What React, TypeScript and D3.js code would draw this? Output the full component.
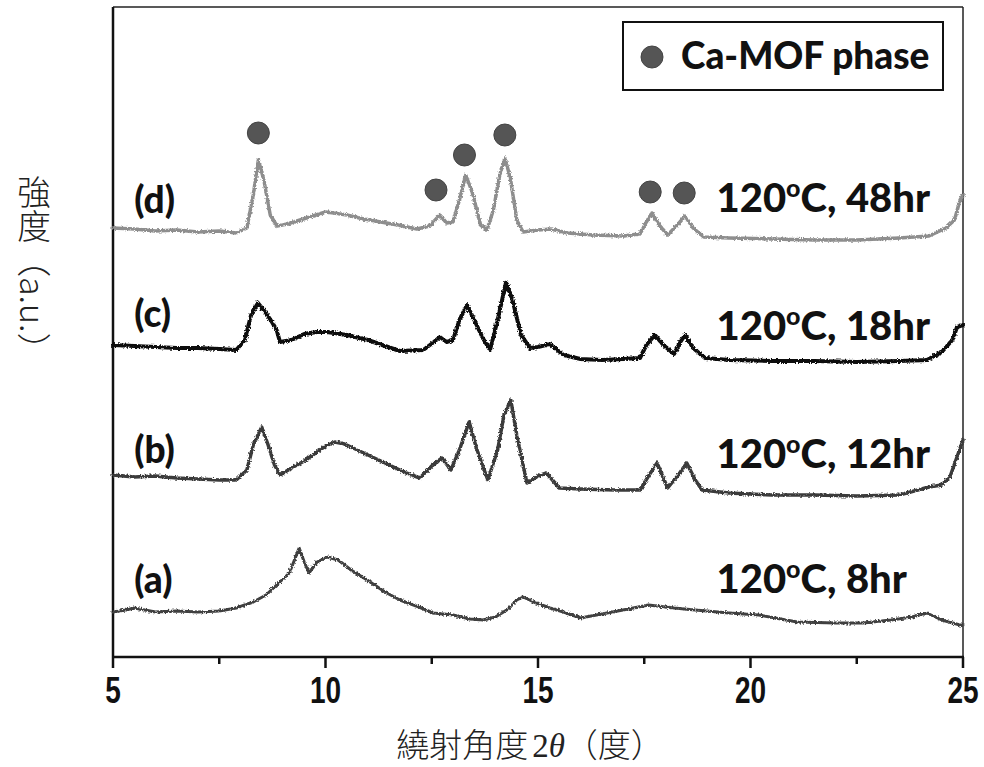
import React from "react";
import * as d3 from "d3";

// XRD patterns, intensity in a.u. (stacked)
const seriesA: [number, number][] = [
  [5.0, 45], [5.3, 47], [5.5, 49], [6.0, 45], [6.5, 46], [7.0, 45], [7.5, 46], [7.9, 49],
  [8.3, 55], [8.6, 62], [8.9, 74], [9.15, 84], [9.38, 109], [9.5, 95], [9.61, 84], [9.8, 95],
  [10.04, 100], [10.3, 97], [10.6, 87], [10.98, 77], [11.4, 65], [11.75, 57], [12.2, 50],
  [12.53, 44], [13.0, 42], [13.4, 38], [13.7, 37], [14.0, 40], [14.3, 48], [14.5, 57],
  [14.65, 60], [14.9, 55], [15.28, 49], [15.6, 45], [16.0, 39], [16.5, 43], [17.0, 47],
  [17.6, 52], [18.2, 49], [18.7, 47], [19.5, 44], [20.2, 42], [21.1, 35], [22.0, 34],
  [22.65, 34], [23.3, 37], [23.8, 40], [24.15, 44], [24.5, 37], [24.93, 32], [25.0, 32],
];

const seriesB: [number, number][] = [
  [5.0, 182], [5.5, 180], [6.0, 181], [6.5, 179], [7.0, 178], [7.5, 177], [7.9, 177],
  [8.15, 187], [8.3, 212], [8.5, 230], [8.65, 212], [8.8, 192], [8.93, 182], [9.2, 189],
  [9.5, 196], [9.8, 205], [10.0, 211], [10.22, 215], [10.45, 213], [10.7, 208], [11.0, 202],
  [11.3, 196], [11.6, 190], [11.9, 184], [12.22, 179],
  [12.5, 191], [12.74, 199], [12.95, 187], [13.15, 207], [13.38, 235], [13.55, 209],
  [13.82, 177], [14.05, 207], [14.2, 242], [14.36, 257], [14.5, 222], [14.74, 174],
  [15.0, 181], [15.2, 184], [15.5, 169], [16.0, 168], [16.8, 167], [17.4, 167], [17.6, 181],
  [17.8, 194], [18.05, 169], [18.3, 182], [18.5, 194], [18.7, 177], [18.86, 167], [19.5, 164],
  [20.5, 162], [21.5, 162], [22.5, 161], [23.5, 162], [24.2, 170], [24.5, 172], [24.7, 181],
  [24.85, 199], [25.0, 217],
];

const seriesC: [number, number][] = [
  [5.0, 312], [5.5, 311], [6.0, 310], [6.5, 309], [7.0, 309], [7.5, 308], [7.9, 307],
  [8.1, 317], [8.25, 342], [8.41, 354], [8.6, 344], [8.74, 335], [8.85, 327], [8.93, 315],
  [9.2, 317], [9.5, 323], [9.8, 325], [10.04, 325], [10.5, 322], [11.0, 317], [11.4, 311],
  [11.75, 306], [12.3, 307],
  [12.55, 315], [12.69, 320], [12.85, 315], [13.0, 317], [13.15, 337], [13.33, 352],
  [13.5, 337], [13.7, 319], [13.87, 307], [14.05, 337], [14.25, 375], [14.4, 357],
  [14.6, 322], [14.81, 309], [15.0, 310], [15.28, 313], [15.6, 302], [16.0, 298],
  [16.5, 297], [17.0, 298], [17.4, 299], [17.55, 312], [17.75, 322], [17.95, 312],
  [18.2, 303], [18.35, 315], [18.46, 322], [18.65, 309], [18.93, 299], [19.5, 297],
  [20.5, 296], [21.5, 296], [22.5, 295], [23.5, 296], [24.15, 297], [24.5, 305],
  [24.75, 317], [24.86, 330], [25.0, 332],
];

const seriesD: [number, number][] = [
  [5.0, 429], [5.5, 428], [6.0, 426], [6.5, 427], [7.0, 425], [7.5, 426], [7.9, 424],
  [8.15, 429], [8.3, 462], [8.42, 497], [8.55, 477], [8.7, 442], [8.86, 431], [9.1, 433],
  [9.4, 437], [9.7, 441], [10.0, 445], [10.2, 444], [10.5, 442], [10.9, 438], [11.3, 435],
  [11.7, 432], [12.15, 428], [12.45, 431],
  [12.69, 442], [12.85, 434], [13.0, 435], [13.15, 457], [13.3, 482], [13.45, 465],
  [13.65, 432], [13.8, 427], [13.95, 447], [14.1, 482], [14.22, 499], [14.35, 479],
  [14.5, 437], [14.65, 425], [15.0, 427], [15.3, 428], [15.7, 424], [16.3, 422], [17.0, 421],
  [17.4, 423], [17.55, 435], [17.68, 444], [17.85, 432], [18.05, 422], [18.3, 433],
  [18.46, 441], [18.65, 429], [18.9, 420], [19.5, 419], [20.5, 418], [21.5, 417],
  [22.5, 417], [23.5, 419], [24.2, 421], [24.6, 429], [24.8, 437], [24.93, 457], [25.0, 462],
];

// Ca-MOF phase markers: [2θ, intensity]
const markers: [number, number][] = [
  [8.42, 524], [12.6, 467], [13.27, 502], [14.22, 522], [17.64, 465], [18.44, 464],
];

const seriesLabels = ["(a)", "(b)", "(c)", "(d)"];
const seriesLabelY = [64, 194, 330, 444];
const conditionHours = ["8hr", "12hr", "18hr", "48hr"];
const conditionY = [64, 189, 317, 445];
const majorTicks = [5, 10, 15, 20, 25];
const minorTicks = [7.5, 12.5, 17.5, 22.5];

const W = 984;
const H = 767;
const margin = { top: 7, right: 21, bottom: 110, left: 113 };

export default function App() {
  const x = d3.scaleLinear().domain([5, 25]).range([margin.left, W - margin.right]);
  const y = d3.scaleLinear().domain([0, 650]).range([H - margin.bottom, margin.top]);
  const line = d3
    .line<[number, number]>()
    .x((d) => x(d[0]))
    .y((d) => y(d[1]));

  const series = [
    { data: seriesA, color: "#3f3f3f", width: 3 },
    { data: seriesB, color: "#3b3b3b", width: 3.5 },
    { data: seriesC, color: "#111111", width: 4 },
    { data: seriesD, color: "#8e8e8e", width: 3.5 },
  ];

  const x0 = x(5);
  const x1 = x(25);
  const yB = y(0);
  const yT = margin.top;
  const labelFont = "Lato, 'Open Sans', sans-serif";

  return (
    <svg
      width={W}
      height={H}
      style={{ position: "absolute", left: 0, top: 0, background: "#fff" }}
    >
      <defs>
        <filter id="rough" x="-2%" y="-20%" width="104%" height="140%">
          <feTurbulence type="fractalNoise" baseFrequency="0.6" numOctaves={2} seed={3} result="n" />
          <feDisplacementMap in="SourceGraphic" in2="n" scale={3.5} xChannelSelector="R" yChannelSelector="G" />
        </filter>
      </defs>

      {/* frame */}
      <line x1={x0} x2={x1} y1={yT} y2={yT} stroke="#222" strokeWidth={1.5} />
      <line x1={x1} x2={x1} y1={yT} y2={yB} stroke="#222" strokeWidth={1.5} />
      <line x1={x0} x2={x0} y1={yT} y2={yB} stroke="#111" strokeWidth={2.5} />
      <line x1={x0 - 1} x2={x1 + 1} y1={yB} y2={yB} stroke="#111" strokeWidth={2.5} />

      {majorTicks.map((t) => (
        <g key={"M" + t}>
          <line x1={x(t)} x2={x(t)} y1={yB} y2={yB + 11} stroke="#111" strokeWidth={2.5} />
          <text
            transform={`translate(${x(t)},${yB + 46}) scale(0.8,1.05)`}
            textAnchor="middle"
            fontFamily="'Liberation Sans', Arial, sans-serif"
            fontWeight="bold"
            fontSize={35}
            fill="#111"
          >
            {t}
          </text>
        </g>
      ))}
      {minorTicks.map((t) => (
        <line key={"m" + t} x1={x(t)} x2={x(t)} y1={yB} y2={yB + 7} stroke="#111" strokeWidth={2.5} />
      ))}

      {/* traces */}
      <g filter="url(#rough)">
        {series.map((s, i) => (
          <path
            key={i}
            d={line(s.data) || ""}
            fill="none"
            stroke={s.color}
            strokeWidth={s.width}
            strokeLinejoin="round"
            strokeLinecap="round"
          />
        ))}
      </g>

      {markers.map((m, i) => (
        <circle key={i} cx={x(m[0])} cy={y(m[1])} r={11} fill="#555" stroke="#444" strokeWidth={1} />
      ))}

      {seriesLabels.map((l, i) => (
        <text
          key={l}
          x={x(5.5)}
          y={y(seriesLabelY[i])}
          fontFamily={labelFont}
          fontWeight={900}
          fontSize={37}
          fill="#111"
        >
          {l}
        </text>
      ))}

      {conditionHours.map((h, i) => (
        <text
          key={h}
          x={x(19.2)}
          y={y(conditionY[i])}
          fontFamily={labelFont}
          fontWeight={900}
          fontSize={40}
          fill="#111"
        >
          120
          <tspan fontSize={25} dy={-15}>o</tspan>
          <tspan dy={15}>C, {h}</tspan>
        </text>
      ))}

      {/* legend */}
      <rect x={623} y={22} width={320} height={68} fill="#fff" stroke="#111" strokeWidth={2} />
      <circle cx={652} cy={57} r={11} fill="#555" stroke="#444" strokeWidth={1} />
      <text x={681} y={69} fontFamily={labelFont} fontWeight={900} fontSize={37} fill="#111">
        Ca-MOF phase
      </text>

      {/* axis titles */}
      <text
        x={530}
        y={757}
        textAnchor="middle"
        fontFamily="'Noto Sans CJK TC', 'Noto Sans CJK JP', sans-serif"
        fontWeight={300}
        fontSize={33}
        fill="#222"
      >
        繞射角度
        <tspan fontFamily="'Liberation Serif', 'DejaVu Serif', serif" dx={4}>2</tspan>
        <tspan fontFamily="'Liberation Serif', 'DejaVu Serif', serif" fontStyle="italic">θ</tspan>
        （度）
      </text>
      <text
        x={34}
        y={175}
        style={{ writingMode: "vertical-rl" } as React.CSSProperties}
        fontFamily="'Noto Sans CJK TC', 'Noto Sans CJK JP', sans-serif"
        fontWeight={300}
        fontSize={34}
        fill="#222"
      >
        強度（a.u.）
      </text>
    </svg>
  );
}
